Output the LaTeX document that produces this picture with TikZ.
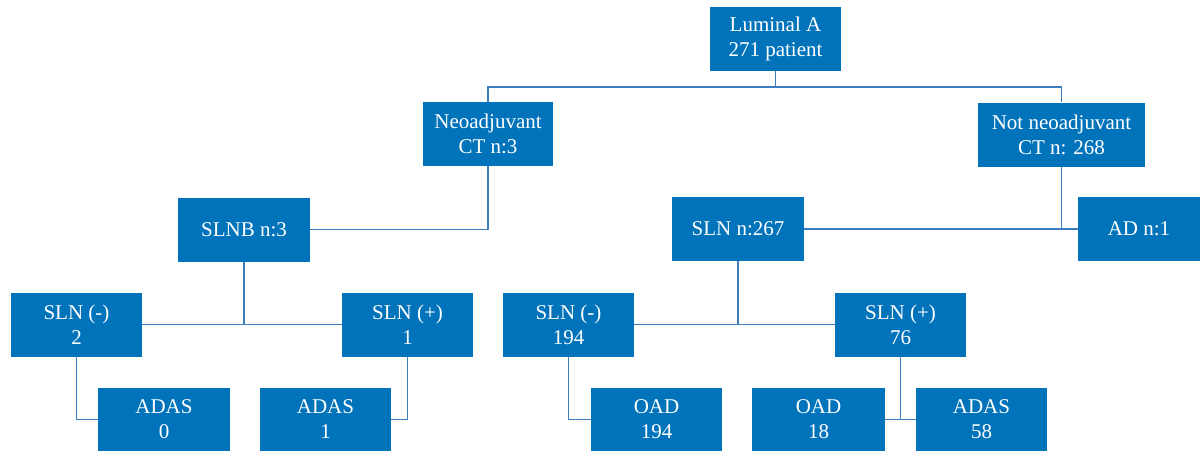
\documentclass[tikz,border=0pt]{standalone}
\usepackage{fontspec}
\setmainfont{Liberation Serif}
\definecolor{boxblue}{RGB}{0,115,187}
\definecolor{lineblue}{RGB}{60,125,190}
\begin{document}
\begin{tikzpicture}[x=1pt,y=-1pt,
  box/.style={fill=boxblue,text=white,inner sep=0pt,align=center,
    minimum height=64pt,font=\fontsize{21}{25}\selectfont},
  conn/.style={draw=lineblue,line width=1.6pt}]
\useasboundingbox (0,0) rectangle (1202,451);
\node[box,minimum width=131pt] (lum) at (775.5,39) {Luminal A\\271 patient};
\node[box,minimum width=130pt] (neo) at (488,134) {Neoadjuvant\\CT n:3};
\node[box,minimum width=167pt] (notneo) at (1061.5,134.5) {Not neoadjuvant\\CT n: 268};
\node[box,minimum width=132pt] (slnb) at (244,229.5) {SLNB n:3};
\node[box,minimum width=132pt] (sln267) at (738,229) {SLN n:267};
\node[box,minimum width=122pt] (ad) at (1139,229) {AD n:1};
\node[box,minimum width=131pt] (slnm2) at (76.5,324.5) {SLN (-)\\2};
\node[box,minimum width=131pt] (slnp1) at (407.5,324.5) {SLN (+)\\1};
\node[box,minimum width=132pt,minimum height=63pt] (adas0) at (164,419.5) {ADAS\\0};
\node[box,minimum width=131pt,minimum height=63pt] (adas1) at (325.5,419.5) {ADAS\\1};
\node[box,minimum width=131pt] (slnm194) at (568.5,324.5) {SLN (-)\\194};
\node[box,minimum width=131pt] (slnp76) at (900.5,324.5) {SLN (+)\\76};
\node[box,minimum width=131pt,minimum height=63pt] (oad194) at (656.5,419.5) {OAD\\194};
\node[box,minimum width=133pt,minimum height=63pt] (oad18) at (818.5,419.5) {OAD\\18};
\node[box,minimum width=131pt,minimum height=63pt] (adas58) at (981.5,419.5) {ADAS\\58};
\coordinate (j1) at (775.5,87);
\draw[conn] (lum.south) -- (j1);
\draw[conn] (neo.north) |- (j1) -| (notneo.north);
\draw[conn] (neo.south) |- (slnb.east);
\draw[conn] (sln267.east) -- (ad.west);
\draw[conn] (notneo.south) -- (notneo.south |- ad.west);
\draw[conn] (slnm2.east) -- (slnp1.west);
\draw[conn] (slnb.south) -- (slnb.south |- slnm2.east);
\draw[conn] (slnm2.south) |- (adas0.west);
\draw[conn] (slnp1.south) |- (adas1.east);
\draw[conn] (slnm194.east) -- (slnp76.west);
\draw[conn] (sln267.south) -- (sln267.south |- slnm194.east);
\draw[conn] (slnm194.south) |- (oad194.west);
\draw[conn] (oad18.east) -- (adas58.west);
\draw[conn] (slnp76.south) -- (slnp76.south |- oad18.east);
\end{tikzpicture}
\end{document}
